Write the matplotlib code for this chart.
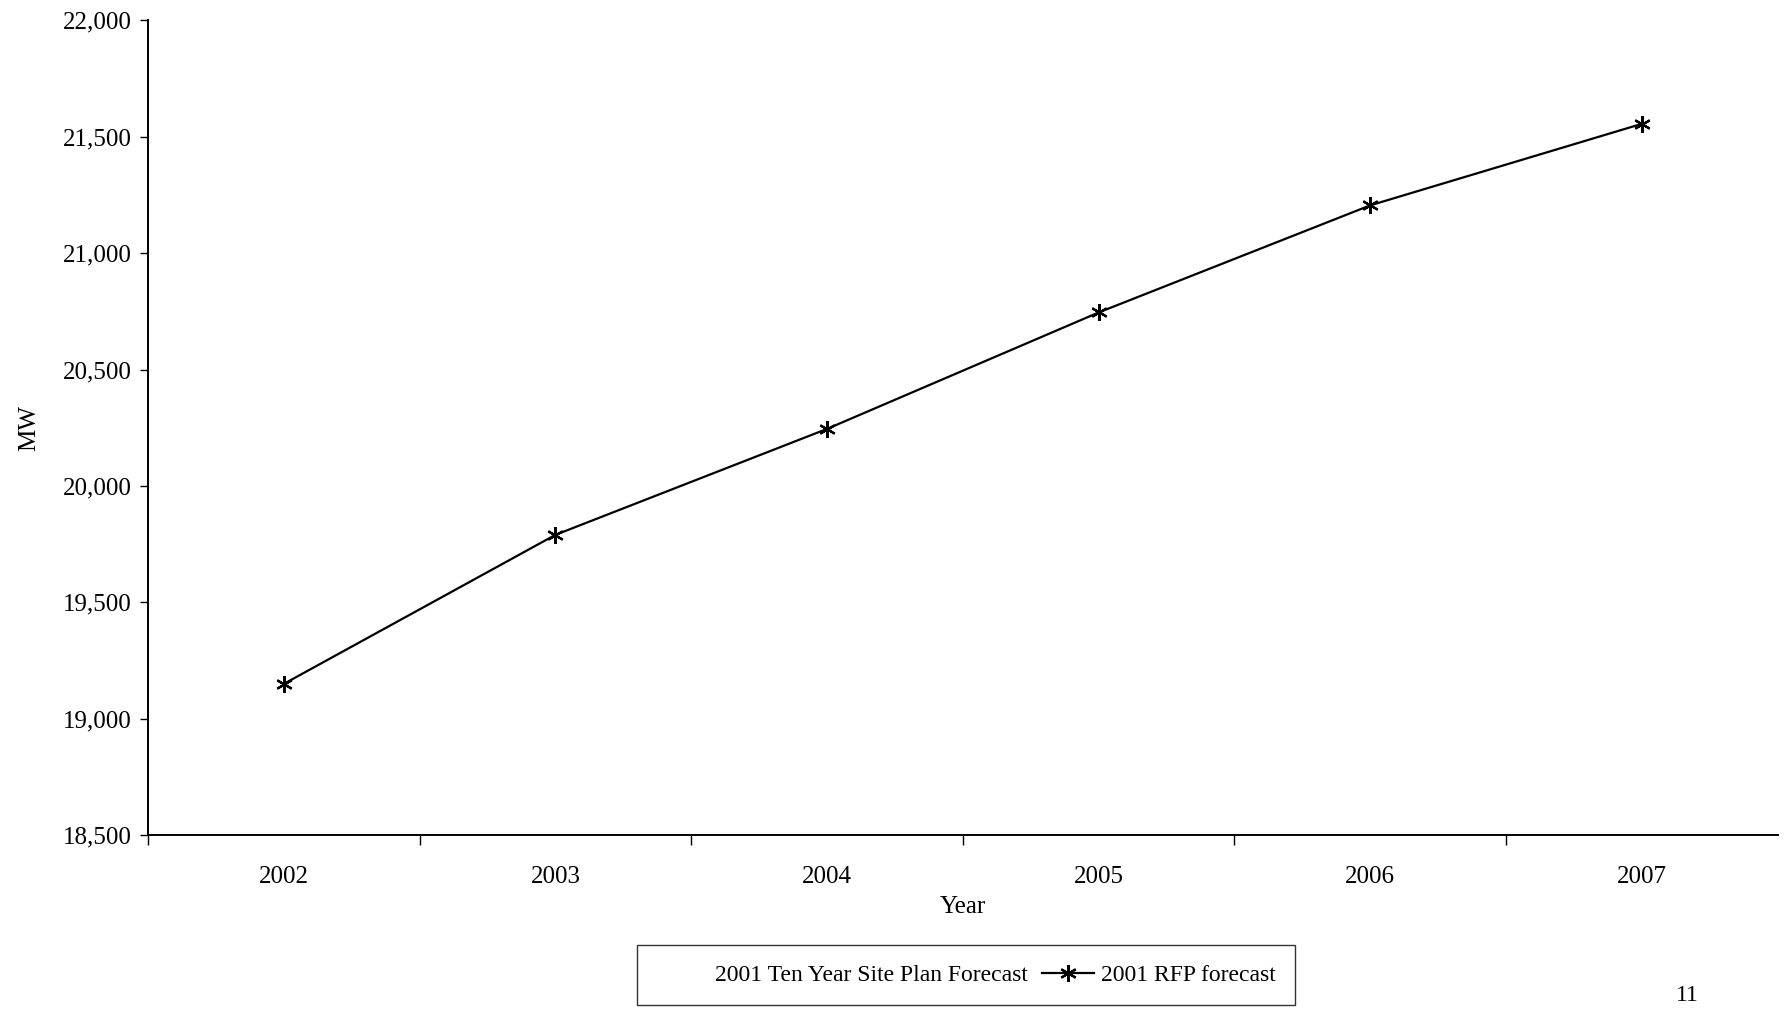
import matplotlib
matplotlib.use("Agg")
import matplotlib.pyplot as plt
from matplotlib.lines import Line2D
from matplotlib.ticker import FuncFormatter, FixedLocator

years = ["2002", "2003", "2004", "2005", "2006", "2007"]
rfp_forecast = [19150, 19790, 20245, 20745, 21205, 21555]
y_ticks = [18500, 19000, 19500, 20000, 20500, 21000, 21500, 22000]

plt.rcParams["font.family"] = ["Liberation Serif", "DejaVu Serif"]

fig = plt.figure(figsize=(17.87, 10.10), dpi=100)
ax = fig.add_axes([0.0828, 0.173, 0.912, 0.807])

xs = list(range(1, len(years) + 1))
ax.plot(xs, rfp_forecast, color="black", linewidth=1.6,
        marker=(6, 2, 0), markersize=12, markeredgewidth=1.6,
        markeredgecolor="black")

ax.set_xlim(0.5, len(years) + 0.5)
ax.set_ylim(y_ticks[0], y_ticks[-1])
ax.set_yticks(y_ticks)
ax.yaxis.set_major_formatter(FuncFormatter(lambda v, _: f"{int(v):,}"))

# category axis: ticks between categories, labels at centres
ax.xaxis.set_major_locator(FixedLocator([x + 0.5 for x in range(len(years))]))
ax.set_xticklabels([])
ax.set_xticks(xs, minor=True)
ax.set_xticklabels(years, minor=True)
ax.tick_params(axis="x", which="minor", length=0, pad=22, labelsize=18)
ax.tick_params(axis="x", which="major", length=7, direction="out", width=1)
ax.tick_params(axis="y", length=6, direction="out", width=1, labelsize=18, pad=6)

for side in ("top", "right"):
    ax.spines[side].set_visible(False)
for side in ("left", "bottom"):
    ax.spines[side].set_linewidth(1.4)

ax.set_xlabel("Year", fontsize=18, labelpad=6)
ax.set_ylabel("MW", fontsize=18, labelpad=16)

handles = [
    Line2D([], [], color="none"),
    Line2D([], [], color="black", linewidth=1.6, marker=(6, 2, 0),
           markersize=12, markeredgewidth=1.6),
]
fig.legend(handles, ["2001 Ten Year Site Plan Forecast", "2001 RFP forecast"],
           loc="upper center", bbox_to_anchor=(0.5405, 0.064), ncol=2,
           fontsize=17, frameon=True, fancybox=False, edgecolor="black",
           handlelength=2.2, columnspacing=0.6, handletextpad=0.3,
           borderpad=0.8, borderaxespad=0).get_frame().set_linewidth(1.0)

fig.text(0.938, 0.004, "11", fontsize=17, ha="left", va="bottom")

fig.savefig("out.png", dpi=100)
